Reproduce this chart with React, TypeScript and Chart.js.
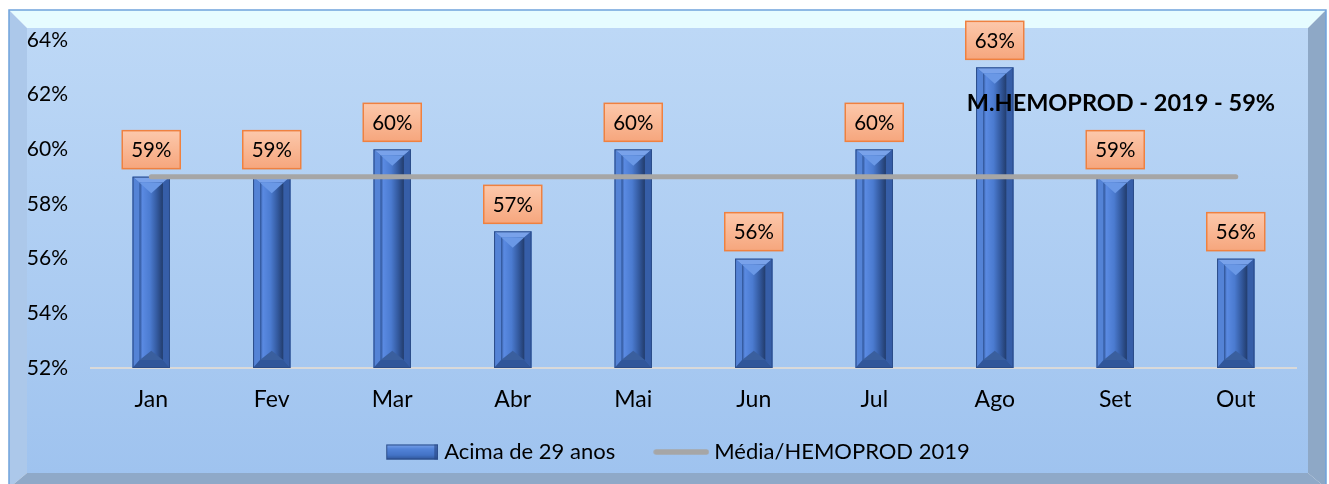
import React, { useEffect, useRef } from 'react';
import { Chart, registerables } from 'chart.js';

Chart.register(...registerables);

const months = ['Jan', 'Fev', 'Mar', 'Abr', 'Mai', 'Jun', 'Jul', 'Ago', 'Set', 'Out'];
const acima29 = [59, 59, 60, 57, 60, 56, 60, 63, 59, 56];
const media2019 = [59, 59, 59, 59, 59, 59, 59, 59, 59, 59];
const yMin = 52;
const yMax = 64;
const yStep = 2;
const seriesNames = ['Acima de 29 anos', 'Média/HEMOPROD 2019'];
const annotationText = 'M.HEMOPROD - 2019 - 59%';

const W = 1329;
const H = 484;
const FONT = 'Lato, "Noto Sans", sans-serif';

function poly(ctx: CanvasRenderingContext2D, pts: number[][], fill: string) {
  ctx.beginPath();
  ctx.moveTo(pts[0][0], pts[0][1]);
  for (let i = 1; i < pts.length; i++) ctx.lineTo(pts[i][0], pts[i][1]);
  ctx.closePath();
  ctx.fillStyle = fill;
  ctx.fill();
}

function drawBevelBar(ctx: CanvasRenderingContext2D, l: number, t: number, r: number, b: number) {
  const inL = l + 7, inR = r - 7, inT = t + 6, inB = b - 8;
  ctx.fillStyle = '#4070c2';
  ctx.fillRect(l, t, r - l, b - t);
  poly(ctx, [[l, t], [r, t], [inR, inT], [inL, inT]], '#79a2ea');
  poly(ctx, [[l, t], [inL, inT], [inL, inB], [l, b]], '#5483d6');
  poly(ctx, [[r, t], [r, b], [inR, inB], [inR, inT]], '#365ea8');
  poly(ctx, [[l, b], [inL, inB], [inR, inB], [r, b]], '#30569a');
  const g = ctx.createLinearGradient(inL, 0, inR, 0);
  g.addColorStop(0, '#2e5293');
  g.addColorStop(0.12, '#5a8ae2');
  g.addColorStop(0.45, '#4b7bd0');
  g.addColorStop(0.75, '#33599e');
  g.addColorStop(1, '#223c6c');
  ctx.fillStyle = g;
  ctx.fillRect(inL, inT, inR - inL, inB - inT);
  const cx = (inL + inR) / 2;
  const half = (inR - inL) / 2;
  poly(ctx, [[inL, inT], [inR, inT], [cx, inT + half * 0.9]], '#6a98e6');
  poly(ctx, [[inL, inB], [inR, inB], [cx, inB - half * 0.8]], '#3a5f9e');
  ctx.strokeStyle = '#2b4c88';
  ctx.lineWidth = 1;
  ctx.strokeRect(l + 0.5, t + 0.5, r - l - 1, b - t - 1);
}

const framePlugin = {
  id: 'frame',
  afterLayout(chart: any) {
    if (chart.legend) {
      chart.legend.left += 9;
      chart.legend.right += 9;
    }
  },
  beforeDraw(chart: any) {
    const ctx: CanvasRenderingContext2D = chart.ctx;
    ctx.save();
    ctx.fillStyle = '#ffffff';
    ctx.fillRect(0, 0, W, H);
    const x0 = 9, y0 = 10, x1 = 1326, y1 = 488;
    const ix0 = 27, iy0 = 28, ix1 = 1308, iy1 = 473;
    const g = ctx.createLinearGradient(0, iy0, 0, iy1);
    g.addColorStop(0, '#bdd8f6');
    g.addColorStop(1, '#9fc3ef');
    ctx.fillStyle = g;
    ctx.fillRect(ix0, iy0, ix1 - ix0, iy1 - iy0);
    poly(ctx, [[x0, y0], [x1, y0], [ix1, iy0], [ix0, iy0]], '#e6fcff');
    poly(ctx, [[x0, y0], [ix0, iy0], [ix0, iy1], [x0, y1]], '#acc8ea');
    poly(ctx, [[x1, y0], [x1, y1], [ix1, iy1], [ix1, iy0]], '#8ea8c6');
    poly(ctx, [[x0, y1], [ix0, iy1], [ix1, iy1], [x1, y1]], '#8fa9c8');
    ctx.strokeStyle = '#6fa3dc';
    ctx.lineWidth = 1.5;
    ctx.strokeRect(x0, y0, x1 - x0, y1 - y0);
    ctx.restore();
  },
};

const bevelBarsPlugin = {
  id: 'bevelBars',
  beforeDatasetDraw(chart: any, args: any) {
    if (args.index !== 0) return;
    const ctx: CanvasRenderingContext2D = chart.ctx;
    const meta = chart.getDatasetMeta(0);
    const bottom = chart.chartArea.bottom;
    ctx.save();
    meta.data.forEach((el: any) => {
      const { x, y, base, width } = el.getProps(['x', 'y', 'base', 'width'], true);
      drawBevelBar(ctx, x - width / 2, y, x + width / 2, Math.min(base, bottom));
    });
    ctx.restore();
    return false;
  },
};

const labelsPlugin = {
  id: 'valueLabels',
  afterDatasetsDraw(chart: any) {
    const ctx: CanvasRenderingContext2D = chart.ctx;
    const meta = chart.getDatasetMeta(0);
    ctx.save();
    meta.data.forEach((el: any, i: number) => {
      const { x, y } = el.getProps(['x', 'y'], true);
      const bw = 58, bh = 38;
      const bottom = y - 8;
      const top = bottom - bh;
      const left = x - bw / 2;
      const g = ctx.createLinearGradient(0, top, 0, bottom);
      g.addColorStop(0, '#fcc8ab');
      g.addColorStop(1, '#f6a67d');
      ctx.fillStyle = g;
      ctx.fillRect(left, top, bw, bh);
      ctx.strokeStyle = '#ef8140';
      ctx.lineWidth = 1.5;
      ctx.strokeRect(left, top, bw, bh);
      ctx.fillStyle = '#000';
      ctx.font = `20.5px ${FONT}`;
      ctx.textAlign = 'center';
      ctx.textBaseline = 'middle';
      ctx.fillText(acima29[i] + '%', x, top + bh / 2 + 1);
    });
    ctx.font = `bold 23.5px ${FONT}`;
    ctx.textAlign = 'left';
    ctx.textBaseline = 'middle';
    ctx.fillStyle = '#000';
    const xs = chart.scales.x;
    const ys = chart.scales.y;
    const ax = xs.getPixelForValue(7) - 28;
    const ay = ys.getPixelForValue(61.67);
    ctx.fillText(annotationText, ax, ay);
    ctx.restore();
  },
};

export default function App() {
  const ref = useRef<HTMLCanvasElement>(null);
  useEffect(() => {
    const canvas = ref.current!;
    const barIcon = document.createElement('canvas');
    barIcon.width = 73;
    barIcon.height = 16;
    const bctx = barIcon.getContext('2d')!;
    {
      const bx = 21, bw = 52, by = 0.5, bh = 15;
      const bg = bctx.createLinearGradient(0, by, 0, by + bh);
      bg.addColorStop(0, '#7aa3ea');
      bg.addColorStop(0.3, '#5283d8');
      bg.addColorStop(0.7, '#4373c6');
      bg.addColorStop(1, '#2f5598');
      bctx.fillStyle = bg;
      bctx.fillRect(bx, by, bw, bh);
      bctx.fillStyle = 'rgba(40,70,130,0.6)';
      bctx.fillRect(bx + bw - 4, by, 4, bh);
      bctx.strokeStyle = '#2b4c88';
      bctx.lineWidth = 1;
      bctx.strokeRect(bx + 0.5, by + 0.5, bw - 1, bh - 1);
    }

    const lineIcon = document.createElement('canvas');
    lineIcon.width = 75;
    lineIcon.height = 6;
    const lctx = lineIcon.getContext('2d')!;
    lctx.strokeStyle = '#a6a6a6';
    lctx.lineWidth = 5.5;
    lctx.lineCap = 'round';
    lctx.beginPath();
    lctx.moveTo(22, 3);
    lctx.lineTo(72, 3);
    lctx.stroke();
    const icons = [barIcon, lineIcon];

    const chart = new Chart(canvas, {
      type: 'bar',
      data: {
        labels: months,
        datasets: [
          {
            type: 'bar',
            label: seriesNames[0],
            data: acima29,
            backgroundColor: '#4472c4',
            borderColor: '#2b4c88',
            borderWidth: 1,
            barPercentage: 0.31,
            categoryPercentage: 1,
            order: 1,
          },
          {
            type: 'line',
            label: seriesNames[1],
            data: media2019,
            borderColor: '#a6a6a6',
            backgroundColor: '#a6a6a6',
            borderWidth: 5,
            borderCapStyle: 'round',
            pointRadius: 0,
            order: 0,
          } as any,
        ],
      },
      options: {
        responsive: false,
        animation: false,
        devicePixelRatio: 1,
        events: [],
        layout: { padding: { left: 26, right: 33, top: 40, bottom: 11 } },
        scales: {
          x: {
            grid: { display: false, drawTicks: false },
            border: { display: true, color: '#d9d9d9', width: 2 },
            ticks: { font: { family: FONT, size: 23 }, color: '#000', padding: 17.7 },
            afterFit(s: any) { s.height = 48; },
          },
          y: {
            min: yMin,
            max: yMax,
            grid: { display: false, drawTicks: false },
            border: { display: false },
            ticks: {
              stepSize: yStep,
              font: { family: FONT, size: 21 },
              color: '#000',
              padding: 23,
              callback: (v: any) => v + '%',
            },
            afterFit(s: any) { s.width = 65; },
          },
        },
        plugins: {
          tooltip: { enabled: false },
          legend: {
            position: 'bottom',
            labels: {
              usePointStyle: true,
              pointStyleWidth: 63,
              boxHeight: 15,
              padding: 25,
              color: '#000',
              font: { family: FONT, size: 22 },
              generateLabels(c: any) {
                const items = (Chart.defaults.plugins.legend.labels as any).generateLabels(c);
                items.sort((a: any, b: any) => a.datasetIndex - b.datasetIndex);
                items.forEach((it: any) => { it.pointStyle = icons[it.datasetIndex]; });
                return items;
              },
            },
          },
        },
      },
      plugins: [framePlugin, bevelBarsPlugin, labelsPlugin],
    });
    return () => chart.destroy();
  }, []);
  return (
    <div style={{ position: 'absolute', left: 0, top: 0, width: W, height: H }}>
      <canvas ref={ref} width={W} height={H} style={{ display: 'block', width: W, height: H }} />
    </div>
  );
}
